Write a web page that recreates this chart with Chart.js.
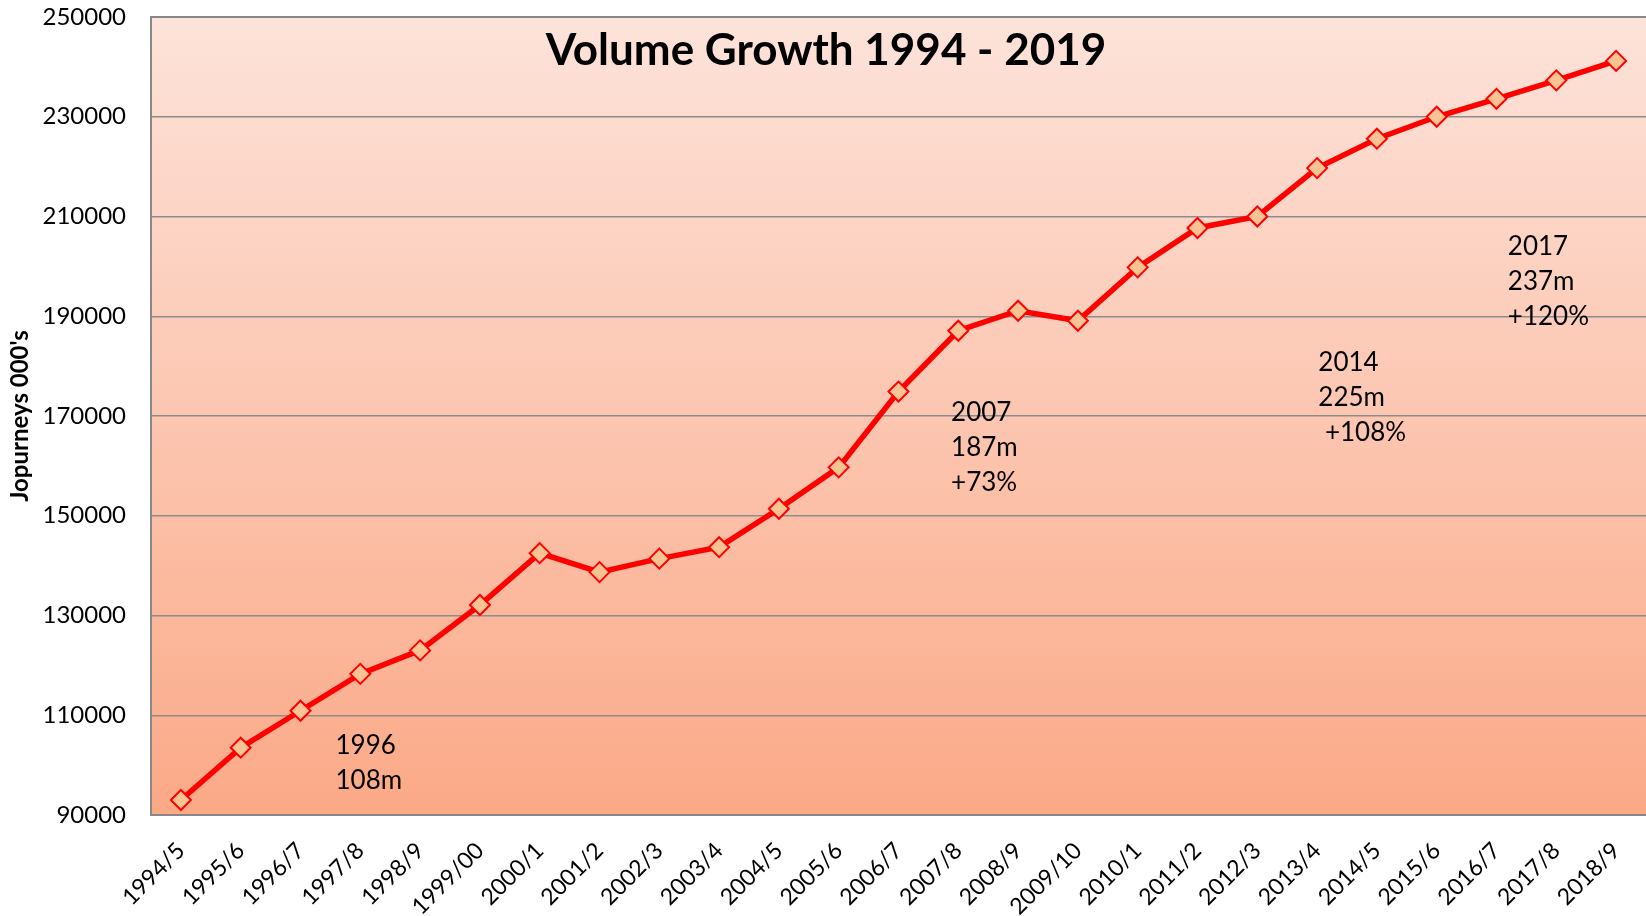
<!DOCTYPE html>
<html>
<head>
<meta charset="utf-8">
<script src="https://cdn.jsdelivr.net/npm/chart.js@4.4.1/dist/chart.umd.min.js"></script>
<style>
  html, body { margin: 0; padding: 0; background: #ffffff; }
  #wrap { width: 1646px; height: 916px; position: relative; }
</style>
</head>
<body>
<div id="wrap"><canvas id="c" width="1646" height="916"></canvas></div>
<script>
const chartTitle = 'Volume Growth 1994 - 2019';
const yAxisTitle = "Jopurneys 000's";
const categories = ['1994/5','1995/6','1996/7','1997/8','1998/9','1999/00','2000/1','2001/2','2002/3','2003/4','2004/5','2005/6','2006/7','2007/8','2008/9','2009/10','2010/1','2011/2','2012/3','2013/4','2014/5','2015/6','2016/7','2017/8','2018/9'];
const journeys = [93000,103500,110900,118300,123000,132100,142500,138700,141400,143700,151400,159700,174900,187100,191100,189100,199800,207700,210000,219700,225600,230000,233600,237300,241200];
const yMin = 90000, yMax = 250000, yStep = 20000;
// annotation text blocks: anchored at (fractional category index, value of first line)
const noteLines = [['1996','108m'], ['2007','187m','+73%'], ['2014','225m',' +108%'], ['2017','237m','+120%']];
const noteIndex = [2.585, 12.88, 19.02, 22.19];
const noteValue = [103900, 170780, 180670, 204000];

const FONT = 'Lato, "Open Sans", sans-serif';

const bgPlugin = {
  id: 'bg',
  beforeDraw(chart) {
    const {ctx, chartArea: a} = chart;
    const g = ctx.createLinearGradient(0, a.top, 0, a.bottom);
    g.addColorStop(0, '#FDE3DA');
    g.addColorStop(1, '#FBA987');
    ctx.save();
    ctx.fillStyle = g;
    ctx.fillRect(a.left, a.top, a.right - a.left, a.bottom - a.top);
    ctx.restore();
  },
  beforeDatasetsDraw(chart) {
    const {ctx, chartArea: a} = chart;
    ctx.save();
    ctx.strokeStyle = '#888888';
    ctx.lineWidth = 2;
    ctx.beginPath();
    ctx.moveTo(a.right + 2, a.top); ctx.lineTo(a.left, a.top); ctx.lineTo(a.left, a.bottom); ctx.lineTo(a.right + 2, a.bottom);
    ctx.stroke();
    ctx.restore();
  },
  afterDatasetsDraw(chart) {
    const {ctx, scales} = chart;
    ctx.save();
    ctx.fillStyle = '#000';
    ctx.font = 'bold 44px ' + FONT;
    ctx.textAlign = 'center';
    ctx.textBaseline = 'alphabetic';
    ctx.fillText(chartTitle, chart.width / 2 + 3, 65);
    ctx.font = '26px ' + FONT;
    ctx.textAlign = 'left';
    ctx.textBaseline = 'middle';
    noteLines.forEach((lines, i) => {
      const x = scales.x.getPixelForValue(noteIndex[i]);
      const y0 = scales.y.getPixelForValue(noteValue[i]);
      lines.forEach((t, j) => ctx.fillText(t, x, y0 + j * 35));
    });
    ctx.restore();
  }
};

new Chart(document.getElementById('c'), {
  type: 'line',
  data: {
    labels: categories,
    datasets: [{
      data: journeys,
      borderColor: '#FF0000',
      borderWidth: 5.5,
      pointStyle: 'rectRot',
      pointRadius: 10,
      pointHoverRadius: 10,
      pointBackgroundColor: '#F9C393',
      pointBorderColor: '#FF0000',
      pointBorderWidth: 2,
      tension: 0,
      fill: false,
      clip: false
    }]
  },
  options: {
    responsive: false,
    animation: false,
    layout: { autoPadding: false, padding: { top: 17, right: 0, left: 0, bottom: 0 } },
    plugins: { legend: { display: false }, tooltip: { enabled: false }, title: { display: false } },
    scales: {
      x: {
        type: 'category',
        offset: true,
        grid: { display: false, drawTicks: false },
        border: { display: false },
        ticks: { maxRotation: 45, minRotation: 45, autoSkip: false, padding: 22, color: '#000', font: { family: FONT, size: 23 } },
        afterFit(s) { s.height = 101; s.paddingLeft = 0; s.paddingRight = 0; }
      },
      y: {
        min: yMin, max: yMax,
        grid: { color: '#8C8C8C', lineWidth: 1.5, drawTicks: false },
        border: { display: false },
        ticks: { stepSize: yStep, padding: 25, color: '#000', font: { family: FONT, size: 24 }, callback: (v) => String(v) },
        title: { display: true, text: yAxisTitle, color: '#000', font: { family: FONT, size: 24, weight: 'bold' }, padding: { top: 6, bottom: 0 } },
        afterFit(s) { s.width = 151; s.paddingTop = 0; s.paddingBottom = 0; }
      }
    }
  },
  plugins: [bgPlugin]
});
</script>
</body>
</html>
